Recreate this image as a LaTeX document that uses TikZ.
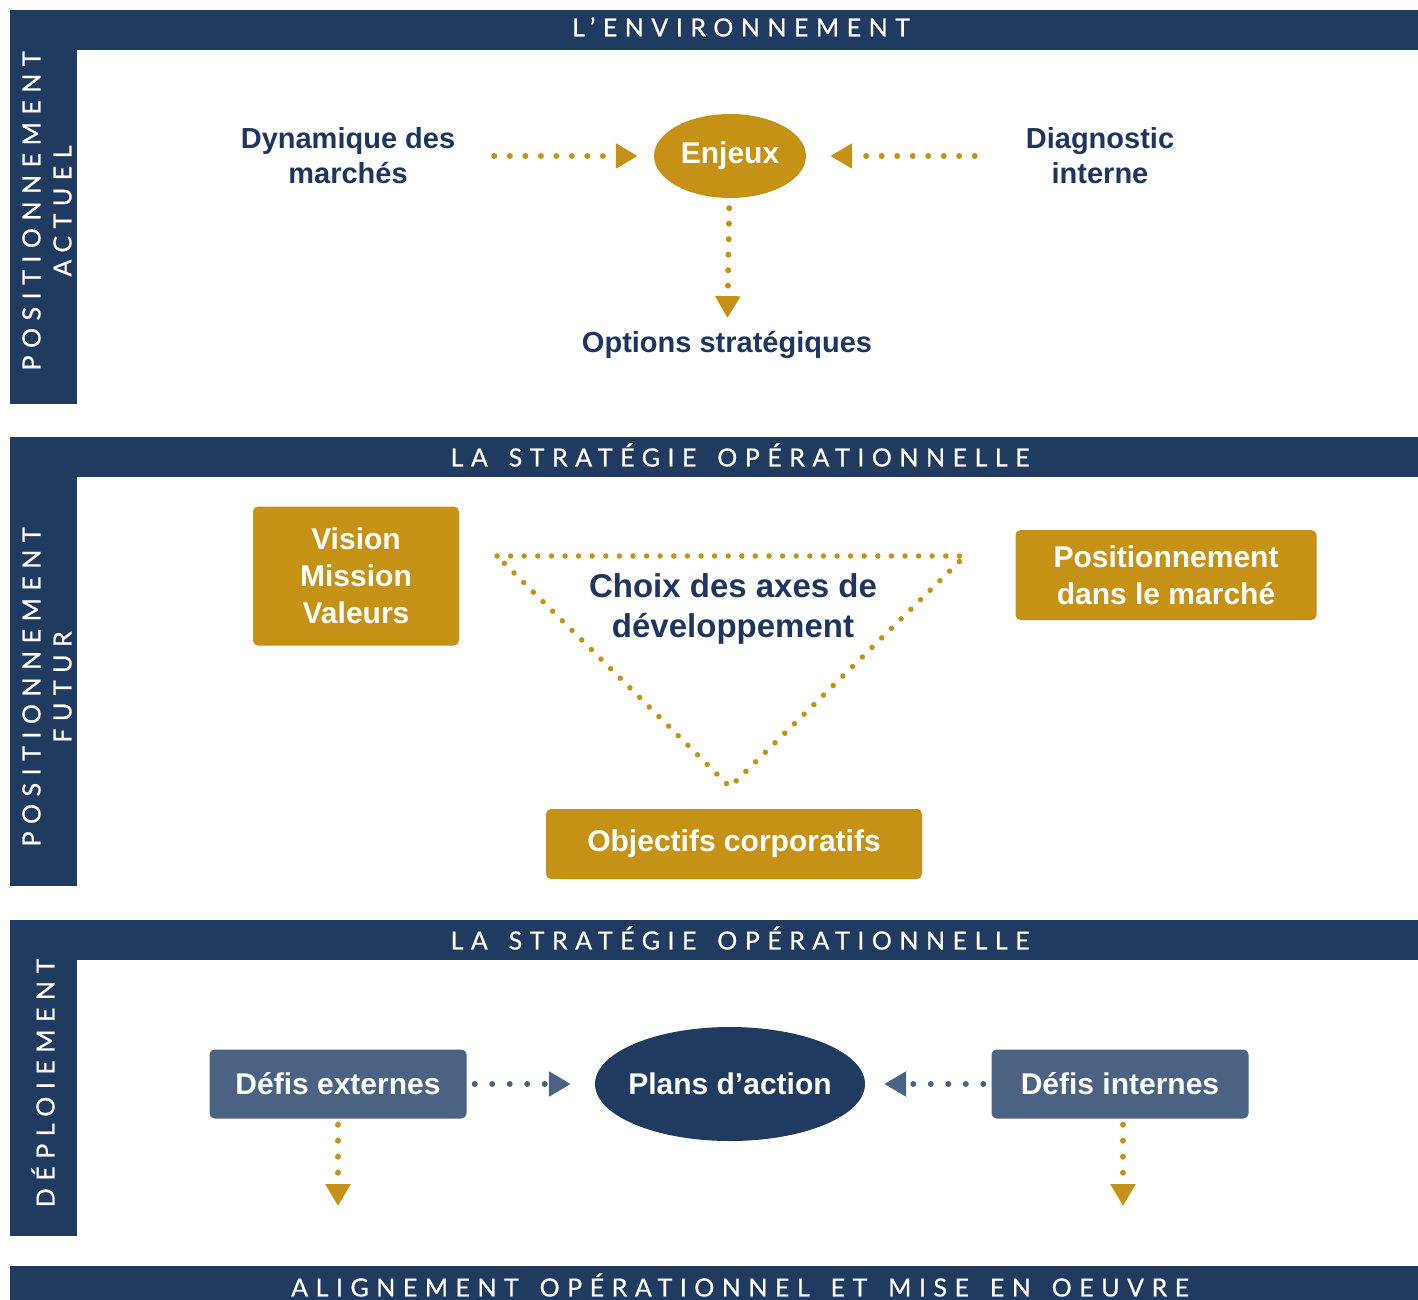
\documentclass[tikz,border=0pt]{standalone}
\usepackage{fontspec}
\setmainfont{Liberation Sans}
\newfontfamily\bandfont[LetterSpace=30,WordSpace=1.5,FakeBold=0.6]{Lato}
\usepackage{tikz}
\usetikzlibrary{arrows.meta}
\usetikzlibrary{shapes.geometric,positioning}
\definecolor{navy}{HTML}{203A60}
\definecolor{inknavy}{HTML}{1F3560}
\definecolor{gold}{HTML}{C59216}
\definecolor{slate}{HTML}{4B6282}

\begin{document}
\begin{tikzpicture}[x=1pt,y=-1pt]
  \tikzset{
    bandtext/.style={text=white,inner sep=0pt,
      font=\bandfont\fontsize{25}{31}\selectfont,align=center},
    plaintext/.style={text=inknavy,inner sep=0pt,align=center,
      font=\bfseries\fontsize{29}{35}\selectfont},
    goldbox/.style={fill=gold,text=white,rounded corners=5pt,inner sep=0pt,
      align=center,font=\bfseries\fontsize{30}{37}\selectfont},
    slatebox/.style={goldbox,fill=slate},
    dotarrow/.style={gold,line width=6pt,line cap=round,
      dash pattern=on 0pt off 15.5pt,
      -{Triangle[length=22pt,width=24pt]}},
  }
  \useasboundingbox (0,0) rectangle (1418,1300);

  % the three L-shaped bands and the bottom band
  \fill[navy] (10,10) rectangle (1418,50);
  \fill[navy] (10,10) rectangle (77,404);
  \fill[navy] (10,437) rectangle (1418,477);
  \fill[navy] (10,437) rectangle (77,886);
  \fill[navy] (10,920) rectangle (1418,960);
  \fill[navy] (10,920) rectangle (77,1236);
  \fill[navy] (10,1266) rectangle (1418,1300);

  \node[bandtext] (envtitle) at (741,27) {L’ENVIRONNEMENT};
  \node[bandtext] (opstitle) at (740,455) {LA STRATÉGIE OPÉRATIONNELLE};
  \node[bandtext] (deptitle) at (740,938) {LA STRATÉGIE OPÉRATIONNELLE};
  \node[bandtext] (aligntitle) at (740,1285)
    {ALIGNEMENT OPÉRATIONNEL ET MISE EN OEUVRE};

  \node[bandtext,rotate=90] (actuel) at (47,211)
    {POSITIONNEMENT\\ACTUEL};
  \node[bandtext,rotate=90] (futur) at (47,687)
    {POSITIONNEMENT\\FUTUR};
  \node[bandtext,rotate=90] (deploi) at (43,1083) {DÉPLOIEMENT};

  % current positioning
  \node[ellipse,fill=gold,text=white,inner sep=0pt,
    minimum width=152pt,minimum height=84pt,
    font=\bfseries\fontsize{30}{36}\selectfont] (enjeux) at (730,156) {Enjeux};
  \node[plaintext] (dyn) at (348,156) {Dynamique des\\marchés};
  \node[plaintext] (diag) at (1100,156) {Diagnostic\\interne};
  \node[plaintext] (options) at (727,345) {Options stratégiques};

  \draw[dotarrow,shorten <=39pt,shorten >=16pt] (dyn) -- (enjeux);
  \draw[dotarrow,shorten <=51pt,shorten >=24pt] (diag) -- (enjeux);
  \draw[dotarrow,shorten <=10pt,shorten >=13pt] (enjeux) -- (options);

  % future positioning
  \node[goldbox,minimum width=206pt,minimum height=139pt]
    (vision) at (356,576) {Vision\\Mission\\Valeurs};
  \node[goldbox,minimum width=301pt,minimum height=90pt]
    (marche) at (1166,575) {Positionnement\\dans le marché};
  \node[goldbox,minimum width=376pt,minimum height=70pt]
    (objectifs) at (734,844) {Objectifs corporatifs};

  \draw[gold,line width=5.5pt,line cap=round,dash pattern=on 0pt off 13.6pt]
    (497,556) coordinate (triA) -- (965,556) coordinate (triB)
    -- (730,787) coordinate (triC) -- cycle;
  \node[plaintext,font=\bfseries\fontsize{33}{40}\selectfont]
    (axes) at (733,609) {Choix des axes de\\développement};

  % deployment
  \node[ellipse,fill=navy,text=white,inner ysep=0pt,inner xsep=-14pt,
    minimum width=270pt,minimum height=114pt,
    font=\bfseries\fontsize{30}{36}\selectfont] (plans) at (730,1084) {Plans d’action};
  \node[slatebox,minimum width=257pt,minimum height=69pt]
    (defext) at (338,1084) {Défis externes};
  \node[slatebox,minimum width=257pt,minimum height=69pt]
    (defint) at (1120,1084) {Défis internes};

  \draw[dotarrow,slate,dash pattern=on 0pt off 17.5pt,
    shorten <=8pt,shorten >=24pt] (defext) -- (plans);
  \draw[dotarrow,slate,dash pattern=on 0pt off 17.5pt,
    shorten <=8pt,shorten >=19pt] (defint) -- (plans);

  \coordinate (extout) at (338,1206);
  \coordinate (intout) at (1123,1206);
  \draw[dotarrow,dash pattern=on 0pt off 16pt,shorten <=6pt] (defext) -- (extout);
  \draw[dotarrow,dash pattern=on 0pt off 16pt,shorten <=6pt]
    (defint.south -| intout) -- (intout);

\end{tikzpicture}
\end{document}
